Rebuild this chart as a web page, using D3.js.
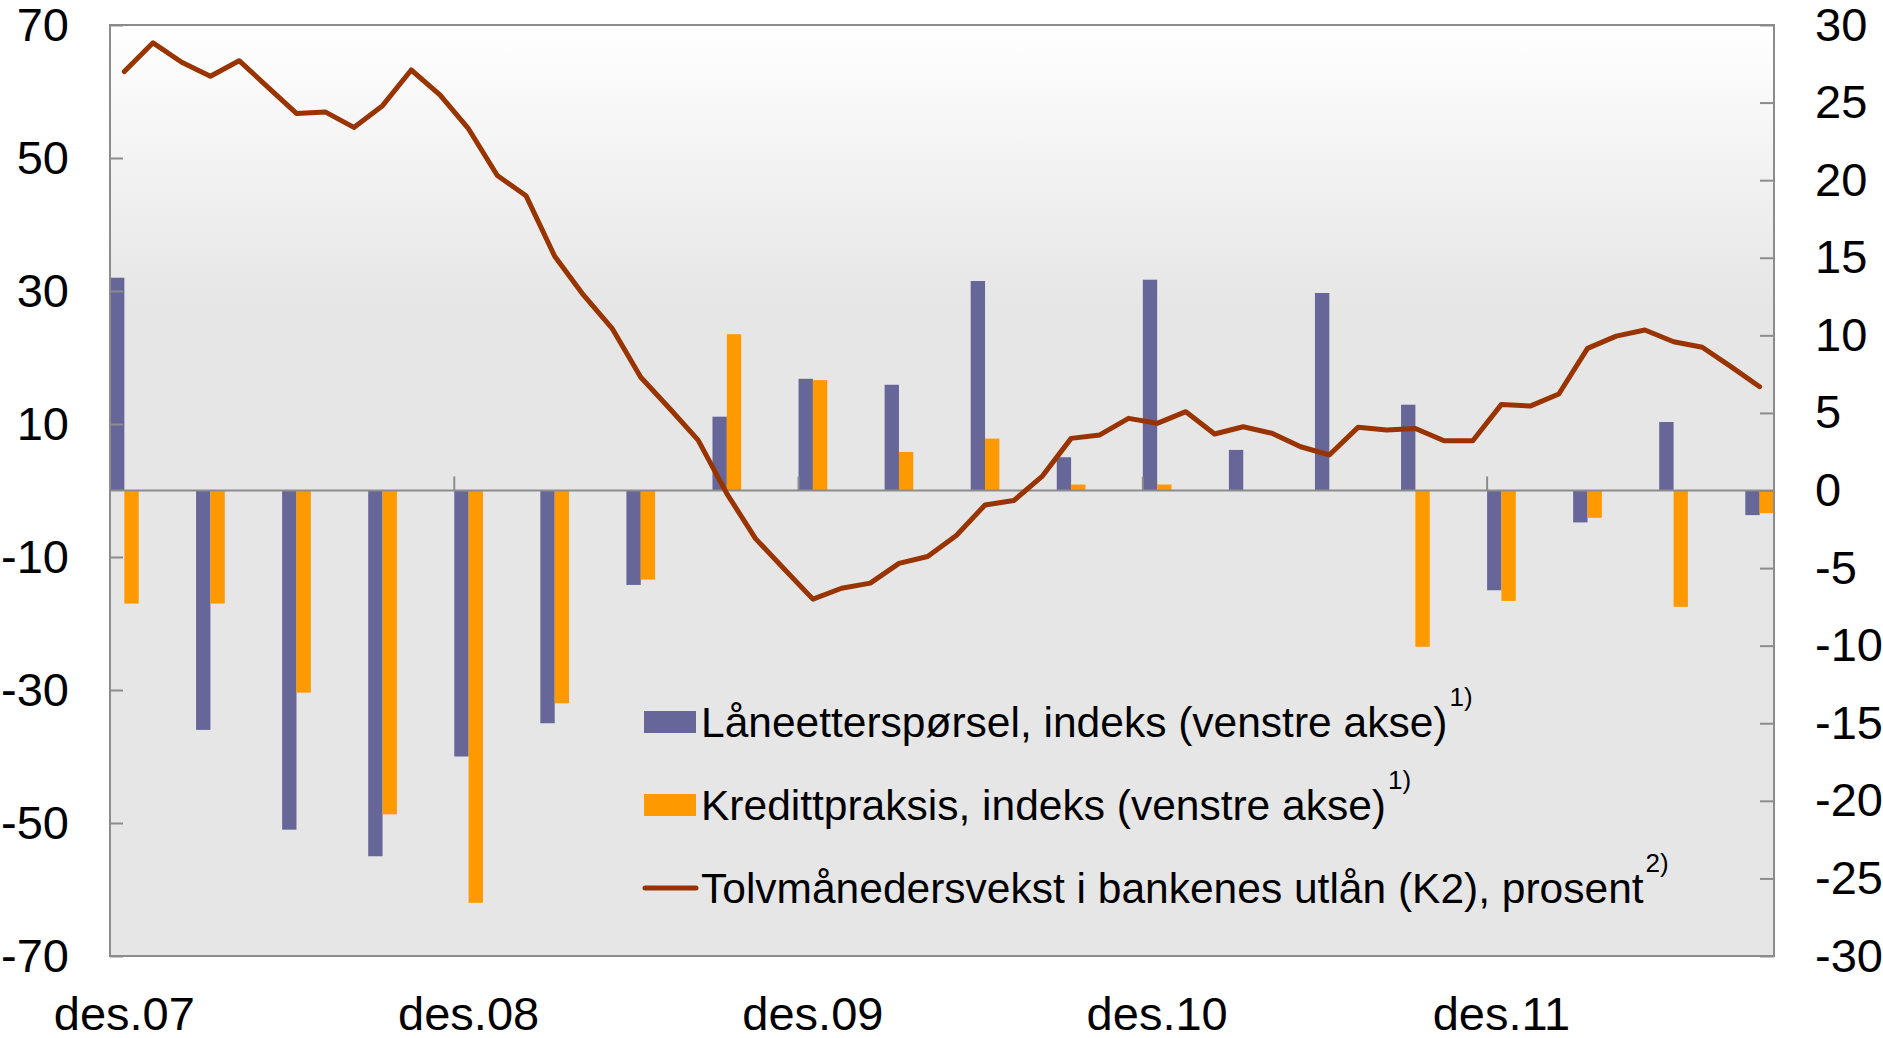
<!DOCTYPE html>
<html>
<head>
<meta charset="utf-8">
<script src="https://cdn.jsdelivr.net/npm/d3@7"></script>
<style>
    body { margin: 0; background: #fff; }
    svg { display: block; font-family: "Liberation Sans", Arial, sans-serif; }
</style>
</head>
<body>
<svg id="chart" width="1883" height="1038"></svg>
<script>
// month categories, des.07 - sep.12
const monthNames = ["jan", "feb", "mar", "apr", "mai", "jun", "jul", "aug", "sep", "okt", "nov", "des"];
const months = [];
for (let i = 0; i < 58; i++) {
    let m = (11 + i) % 12;
    let y = 7 + Math.floor((11 + i) / 12);
    months.push(monthNames[m] + "." + String(y).padStart(2, "0"));
}

// survey is quarterly: des.07, mar.08, ... sep.12
const quarters = months.filter((d, i) => i % 3 === 0);

const laaneetterspoersel = [32, -36, -51, -55, -40, -35, -14.2, 11.1, 16.8, 15.9,
    31.5, 5, 31.7, 6.1, 29.7, 12.9, -15, -4.8, 10.3, -3.7];
const kredittpraksis = [-17, -17, -30.4, -48.7, -62, -32, -13.4, 23.5, 16.6, 5.8,
    7.8, 0.9, 0.9, 0, 0, -23.5, -16.6, -4.1, -17.5, -3.4];

// tolvmånedersvekst K2, prosent (right axis)
const k2Vekst = [27.0, 28.85, 27.6, 26.7, 27.7, 26.0, 24.3, 24.4, 23.4, 24.8,
    27.1, 25.5, 23.3, 20.3, 19.0, 15.1, 12.6, 10.45, 7.3, 5.3,
    3.25, -0.2, -3.1, -5.06, -7.0, -6.3, -5.97, -4.7, -4.25, -2.9,
    -0.93, -0.65, 0.93, 3.36, 3.58, 4.65, 4.33, 5.08, 3.64, 4.11,
    3.69, 2.82, 2.29, 4.07, 3.9, 4.0, 3.21, 3.21, 5.55, 5.44,
    6.22, 9.16, 9.95, 10.34, 9.59, 9.23, 7.98, 6.69];

const xLabels = ["des.07", "des.08", "des.09", "des.10", "des.11"];
const leftTicks = [-70, -50, -30, -10, 10, 30, 50, 70];
const rightTicks = [-30, -25, -20, -15, -10, -5, 0, 5, 10, 15, 20, 25, 30];

const seriesNames = ["Låneetterspørsel, indeks (venstre akse)", "Kredittpraksis, indeks (venstre akse)",
    "Tolvmånedersvekst i bankenes utlån (K2), prosent"];
const seriesNotes = ["1)", "1)", "2)"];

const colors = { lan: "#666699", kred: "#ff9900", line: "#993300", axis: "#8c8c8c" };

const plot = { left: 110, right: 1774, top: 25, bottom: 956 };

let svg = d3.select("#chart");

let x = d3.scaleBand().domain(months).range([plot.left, plot.right]).padding(0);
let inner = d3.scaleBand().domain(["lan", "kred"]).range([0, x.bandwidth()]).padding(0);
let yLeft = d3.scaleLinear().domain([-70, 70]).range([plot.bottom, plot.top]);
let yRight = d3.scaleLinear().domain([-30, 30]).range([plot.bottom, plot.top]);

// background gradient
let grad = svg.append("defs").append("linearGradient")
    .attr("id", "bg").attr("x1", 0).attr("y1", 0).attr("x2", 0).attr("y2", 1);
grad.append("stop").attr("offset", "0%").attr("stop-color", "#ffffff");
grad.append("stop").attr("offset", "30%").attr("stop-color", "#e6e6e6");
grad.append("stop").attr("offset", "100%").attr("stop-color", "#e6e6e6");

svg.append("rect")
    .attr("x", plot.left).attr("y", plot.top)
    .attr("width", plot.right - plot.left).attr("height", plot.bottom - plot.top)
    .attr("fill", "url(#bg)");

// bars
let barData = quarters.map((q, i) => ({ q: q, lan: laaneetterspoersel[i], kred: kredittpraksis[i] }));
let groups = svg.append("g").selectAll("g")
    .data(barData)
    .join("g")
    .attr("transform", d => "translate(" + x(d.q) + ",0)");

groups.selectAll("rect")
    .data(d => ["lan", "kred"].map(k => ({ key: k, value: d[k] })))
    .join("rect")
    .attr("x", d => inner(d.key))
    .attr("width", inner.bandwidth())
    .attr("y", d => yLeft(Math.max(0, d.value)))
    .attr("height", d => Math.abs(yLeft(d.value) - yLeft(0)))
    .attr("fill", d => colors[d.key]);

// zero line and yearly tick marks
svg.append("line")
    .attr("x1", plot.left).attr("x2", plot.right)
    .attr("y1", yLeft(0)).attr("y2", yLeft(0))
    .attr("stroke", colors.axis).attr("stroke-width", 2);

svg.append("g").selectAll("line")
    .data(xLabels.slice(1))
    .join("line")
    .attr("x1", d => x(d)).attr("x2", d => x(d))
    .attr("y1", yLeft(0)).attr("y2", yLeft(0) - 14)
    .attr("stroke", colors.axis).attr("stroke-width", 2);

// axes (plain hyphen for negatives, like the original)
function styleAxis(g) {
    g.select(".domain").remove();
    g.selectAll(".tick line").attr("stroke", colors.axis).attr("stroke-width", 2);
    g.selectAll(".tick text").attr("font-size", 47).attr("fill", "#000")
        .attr("font-family", "'Liberation Sans', Arial, sans-serif");
}

svg.append("g")
    .attr("transform", "translate(" + plot.left + ",0)")
    .call(d3.axisLeft(yLeft).tickValues(leftTicks).tickFormat(d => String(d)).tickSize(-13).tickPadding(41))
    .call(styleAxis);

svg.append("g")
    .attr("transform", "translate(" + plot.right + ",0)")
    .call(d3.axisRight(yRight).tickValues(rightTicks).tickFormat(d => String(d)).tickSize(-14).tickPadding(41))
    .call(styleAxis);

svg.append("g")
    .attr("transform", "translate(0," + plot.bottom + ")")
    .call(d3.axisBottom(x).tickValues(xLabels).tickSize(0).tickPadding(41))
    .call(styleAxis);

// line, right axis
let line = d3.line()
    .x((d, i) => x(months[i]) + x.bandwidth() / 2)
    .y(d => yRight(d));

svg.append("path")
    .datum(k2Vekst)
    .attr("d", line)
    .attr("fill", "none")
    .attr("stroke", colors.line)
    .attr("stroke-width", 5)
    .attr("stroke-linejoin", "round")
    .attr("stroke-linecap", "round");

// plot border
svg.append("rect")
    .attr("x", plot.left).attr("y", plot.top)
    .attr("width", plot.right - plot.left).attr("height", plot.bottom - plot.top)
    .attr("fill", "none").attr("stroke", colors.axis).attr("stroke-width", 2);

// legend
let legendRows = [722, 805, 888];
let legend = svg.append("g");

legend.append("rect").attr("x", 644).attr("y", legendRows[0] - 11)
    .attr("width", 52).attr("height", 22).attr("fill", colors.lan);
legend.append("rect").attr("x", 644).attr("y", legendRows[1] - 11)
    .attr("width", 52).attr("height", 22).attr("fill", colors.kred);
legend.append("line").attr("x1", 645).attr("x2", 696)
    .attr("y1", legendRows[2]).attr("y2", legendRows[2])
    .attr("stroke", colors.line).attr("stroke-width", 5).attr("stroke-linecap", "round");

seriesNames.forEach(function (name, i) {
    let t = legend.append("text")
        .attr("x", 701)
        .attr("y", legendRows[i] + 15)
        .attr("font-size", 42.5)
        .attr("fill", "#000");
    t.append("tspan").text(name);
    t.append("tspan").attr("dx", 2).attr("dy", -31).attr("font-size", 26).text(seriesNotes[i]);
});
</script>
</body>
</html>
